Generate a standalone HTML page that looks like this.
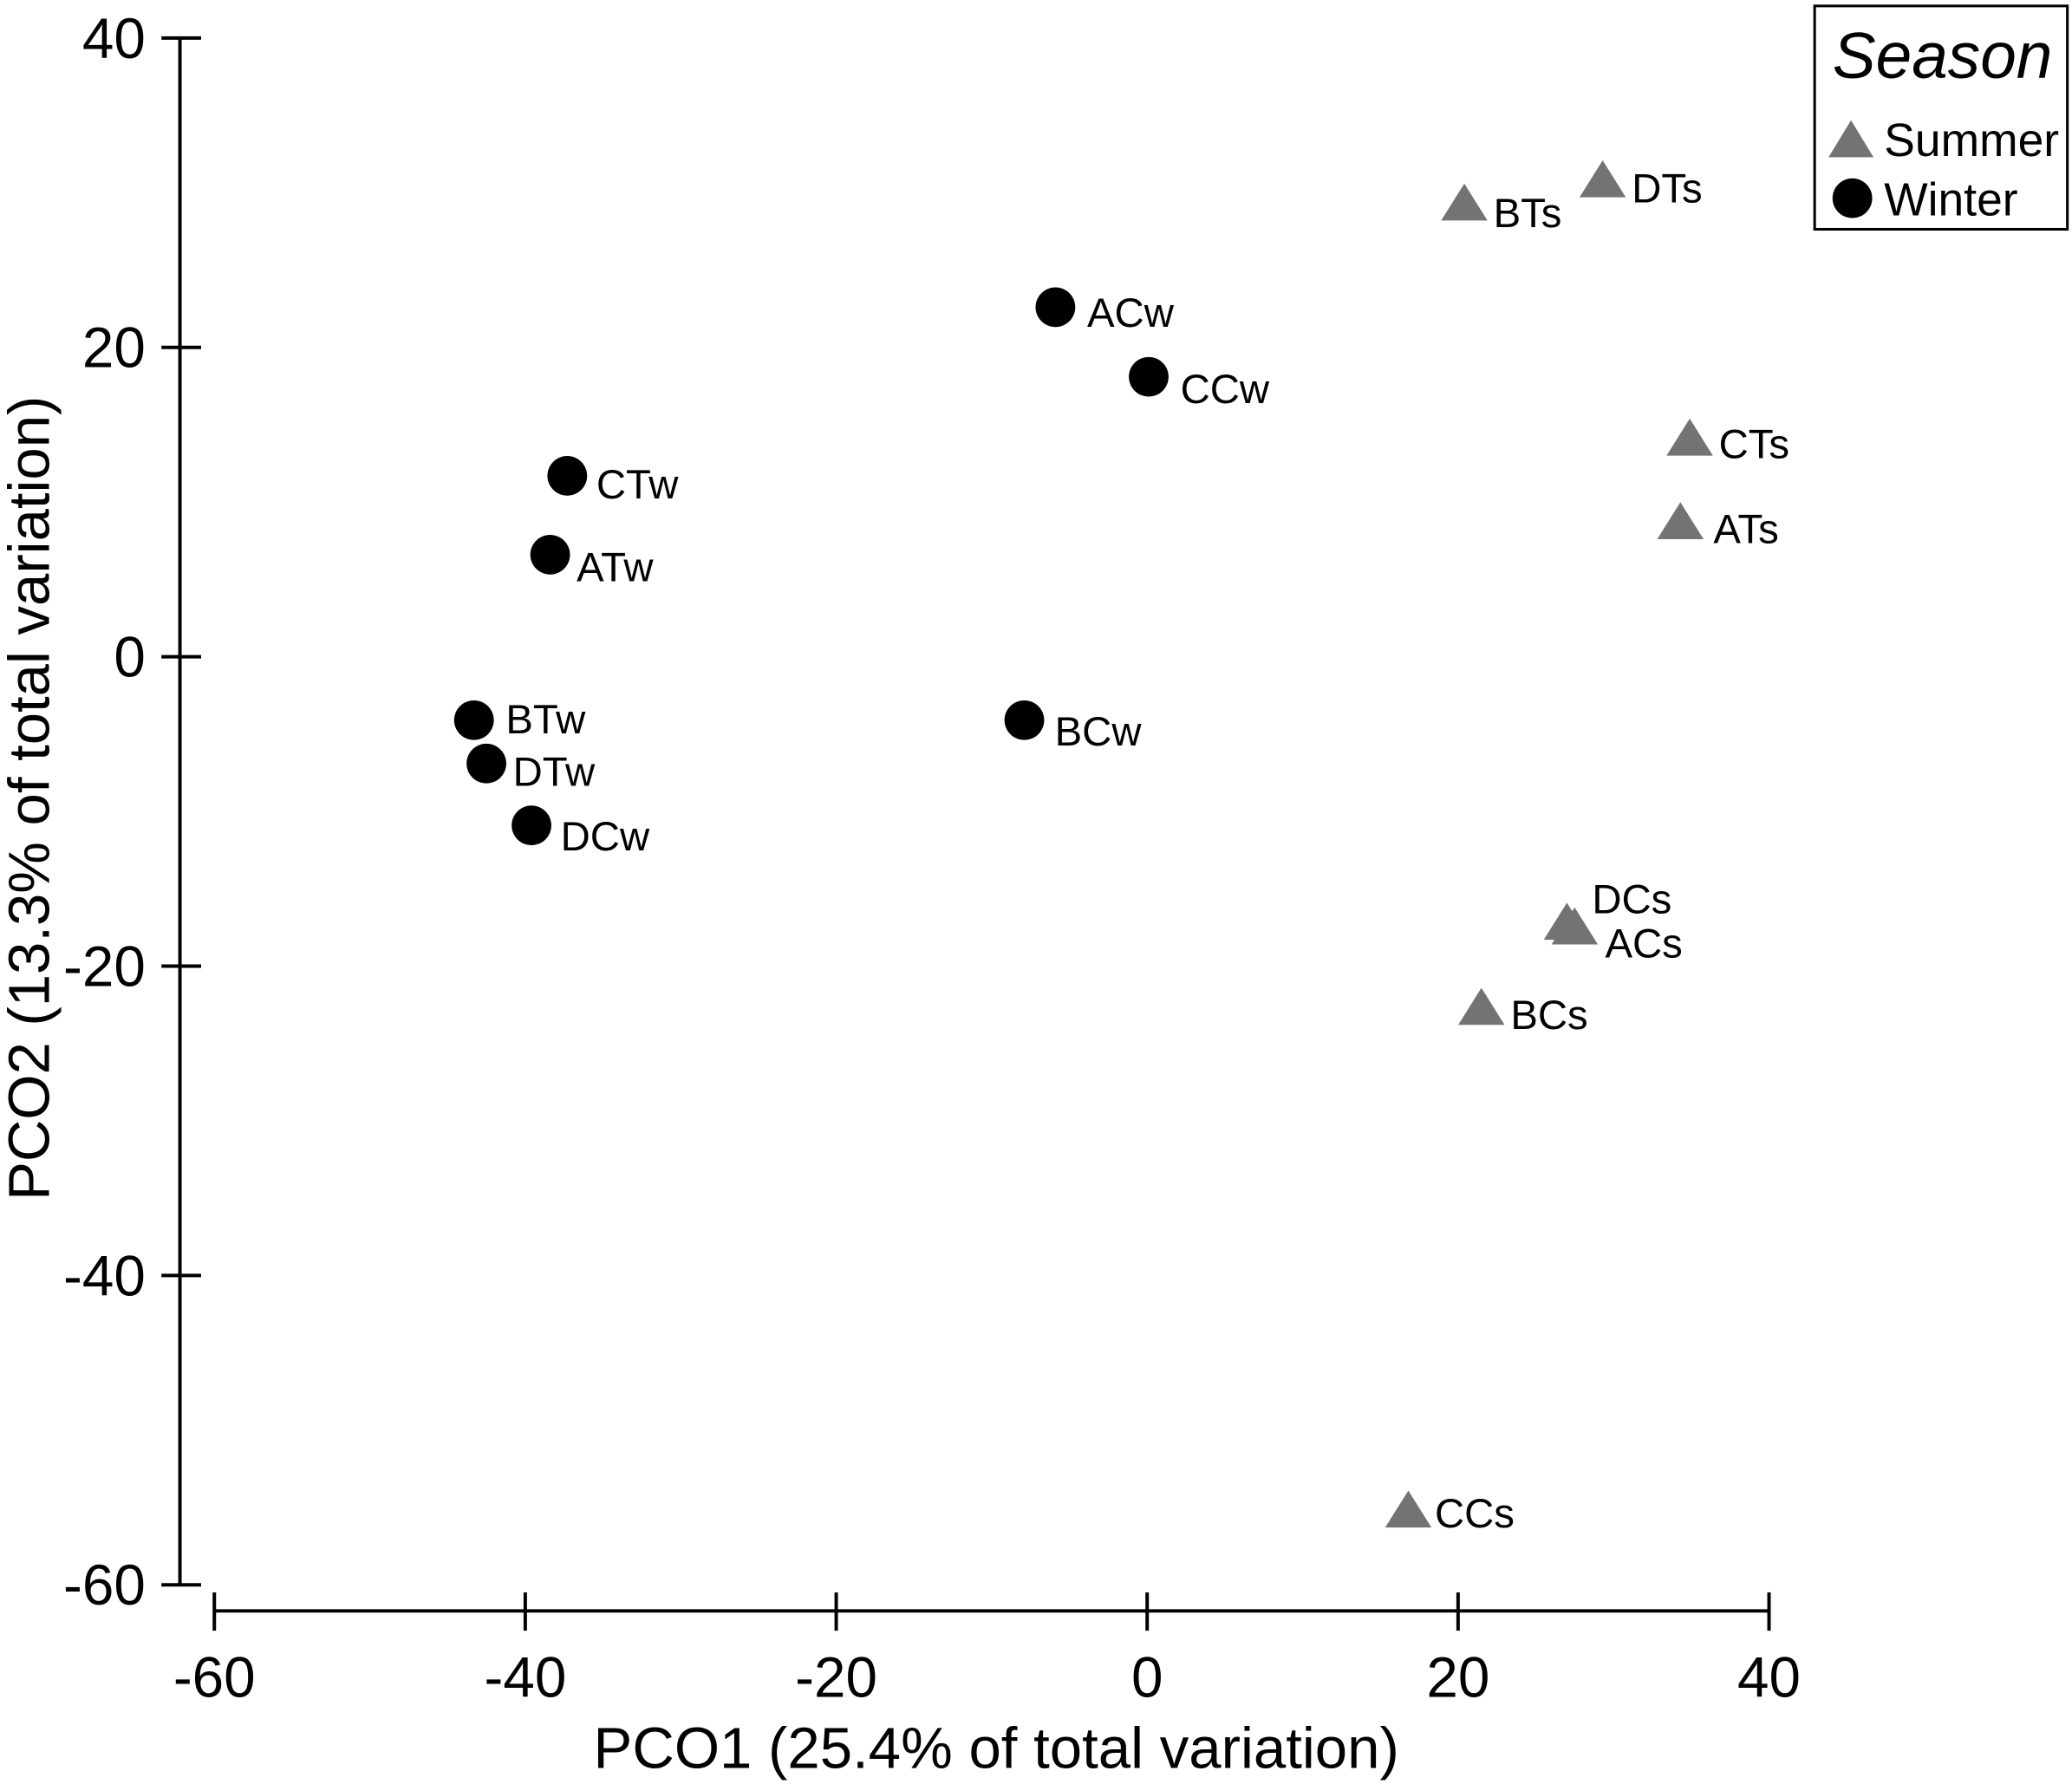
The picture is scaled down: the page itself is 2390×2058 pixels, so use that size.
<!DOCTYPE html>
<html><head><meta charset="utf-8"><style>
html,body{margin:0;padding:0;background:#fff}
svg{display:block}
text{font-family:"Liberation Sans",Arial,sans-serif}
</style></head><body>
<svg id="chart" width="2390" height="2058" viewBox="0 0 1566 1350" preserveAspectRatio="none">
<g id="axes"></g><g id="marks"></g>
<g>
<rect x="1371.5" y="4.5" width="191" height="169" fill="#fff" stroke="#000" stroke-width="2"/>
<text x="1385" y="59" font-size="49" font-style="italic">Season</text>
<polygon points="1382,119 1399,91 1416,119" fill="#737373"/>
<text x="1424" y="118" font-size="35">Summer</text>
<circle cx="1400" cy="150" r="15" fill="#000"/>
<text x="1424" y="163" font-size="35">Winter</text>
</g>
<text x="753" y="1338" font-size="44" text-anchor="middle">PCO1 (25.4% of total variation)</text>
<text transform="translate(37,604) rotate(-90)" font-size="44" text-anchor="middle">PCO2 (13.3% of total variation)</text>
</svg>
<script>
const labels=["ACw","CCw","CTw","ATw","BTw","DTw","DCw","BCw","BTs","DTs","CTs","ATs","DCs","ACs","BCs","CCs"];
const season=["W","W","W","W","W","W","W","W","S","S","S","S","S","S","S","S"];
const pco1=[-5.9,0.1,-37.3,-38.4,-43.3,-42.5,-39.6,-7.9,20.4,29.3,34.9,34.3,27.0,27.5,21.5,16.8];
const pco2=[22.6,18.1,11.7,6.6,-4.1,-6.9,-10.9,-4.1,29.4,30.9,14.2,8.8,-17.1,-17.4,-22.6,-55.1];
const labelDx=[24,24,22,20,24,20,22,23,22,22,22,25,19,23,22,20];
const labelDy=[15,20,17,20,10,17,19,19,19,18,16,17,-6,24,17,14];
const xTicks=[-60,-40,-20,0,20,40];
const yTicks=[40,20,0,-20,-40,-60];
const X=v=>867+v*11.75;
const Y=v=>497-v*11.705;
const NS="http://www.w3.org/2000/svg";
const ax=document.getElementById('axes'),mk=document.getElementById('marks');
function mkEl(t,a,p){const e=document.createElementNS(NS,t);for(const k in a)e.setAttribute(k,a[k]);p.appendChild(e);return e;}
let l=mkEl('line',{x1:136,x2:136,y1:Y(40),y2:Y(-60),stroke:'#000','stroke-width':2.6},ax);


l=mkEl('line',{x1:X(-60),x2:X(40),y1:1219,y2:1219,stroke:'#000','stroke-width':2.6},ax);


yTicks.forEach(v=>{
 const t=mkEl('line',{x1:122,x2:152,y1:Y(v),y2:Y(v),stroke:'#000','stroke-width':2.6},ax);
 
 
 const tx=mkEl('text',{x:110,y:Y(v)+15,'font-size':43,'text-anchor':'end'},ax);tx.textContent=v;
 
 
});
xTicks.forEach(v=>{
 const t=mkEl('line',{x1:X(v),x2:X(v),y1:1205,y2:1234,stroke:'#000','stroke-width':2.6},ax);
 
 
 const tx=mkEl('text',{x:X(v),y:1284,'font-size':43,'text-anchor':'middle'},ax);tx.textContent=v;
 
 
});
labels.forEach((n,i)=>{
 const cx=X(pco1[i]),cy=Y(pco2[i]);let m;
 if(season[i]==='W'){m=mkEl('circle',{cx:cx,cy:cy,r:15,fill:'#000'},mk);}
 else{m=mkEl('polygon',{points:`${cx-17.5},${cy+14} ${cx},${cy-14} ${cx+17.5},${cy+14}`,fill:'#737373'},mk);}
 
 
 const t=mkEl('text',{x:cx+labelDx[i],y:cy+labelDy[i],'font-size':31},mk);t.textContent=n;
 
 
});
</script>
</body></html>
